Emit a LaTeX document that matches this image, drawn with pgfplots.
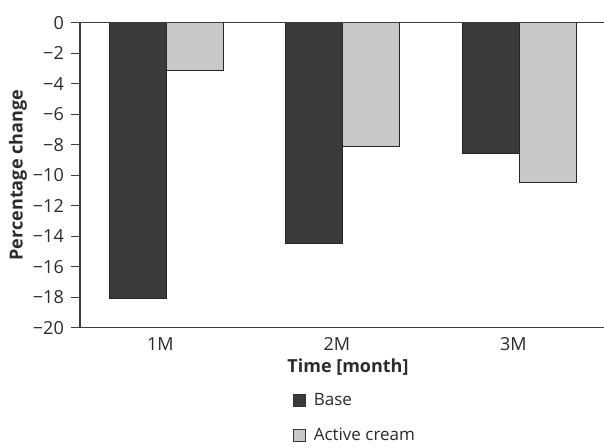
\documentclass[border=0pt]{standalone}
\usepackage{pgfplots}
\pgfplotsset{compat=1.18}
\usepackage{fontspec}
\setmainfont{Open Sans}
\definecolor{darkbar}{HTML}{3A3A3A}
\definecolor{lightbar}{HTML}{C8C8C8}
\definecolor{axiscol}{HTML}{3C3C3C}
\definecolor{txt}{HTML}{2B2B2B}

\begin{document}
\fontsize{18}{21}\selectfont
\begin{tikzpicture}
\begin{axis}[
  width=524pt, height=305pt, scale only axis,
  ybar=0pt, bar width=0.323,
  xmin=-0.49, xmax=2.48, ymin=-20, ymax=0,
  xtick=data, xticklabels={1M,2M,3M},
  ytick={-20,-18,...,0},
  yticklabels={−20,−18,−16,−14,−12,−10,−8,−6,−4,−2,0},
  axis x line*=bottom, axis y line*=left,
  axis line style={axiscol, line width=1.2pt},
  x tick style={draw=none},
  y tick style={axiscol, line width=1pt},
  tick align=outside, major tick length=9pt,
  tick label style={color=txt, font=\fontsize{18}{21}\selectfont},
  x tick label style={xshift=-6pt, yshift=5pt},
  y tick label style={xshift=-1pt},
  xlabel={\bfseries Time [month]},
  ylabel={\bfseries Percentage change},
  label style={color=txt, font=\fontsize{18}{21}\selectfont},
  xlabel style={at={([xshift=6pt,yshift=-39pt]rel axis cs:0.5,0)}, anchor=center},
  ylabel style={at={([xshift=-62pt]rel axis cs:0,0.5)}, anchor=center},
  legend style={at={(0.4065,-0.2147)}, anchor=north west, draw=none,
    inner sep=0pt, outer sep=0pt, nodes={inner sep=0pt},
    column sep=8pt, row sep=20pt,
    font=\fontsize{17}{20}\selectfont, text=txt},
  legend cell align=left,
  legend image code/.code={\draw[#1, draw=black!80, line width=0.8pt] (0pt,-6pt) rectangle (12pt,6pt);},
]
\addplot[fill=darkbar, draw=black!85, line width=0.8pt] coordinates {(0,-18.05) (1,-14.45) (2,-8.55)};
\addplot[fill=lightbar, draw=black!85, line width=0.8pt] coordinates {(0,-3.15) (1,-8.1) (2,-10.45)};
\legend{Base, Active cream}
\draw[axiscol, line width=1.2pt] (rel axis cs:0,1) -- (rel axis cs:1,1);
\coordinate (bl) at (rel axis cs:0,0);
\coordinate (tr) at (rel axis cs:1,1);
\end{axis}
\pgfresetboundingbox
\path[use as bounding box] ([xshift=-80pt,yshift=-120pt]bl) rectangle ([yshift=22.7pt]tr);
\end{tikzpicture}
\end{document}
